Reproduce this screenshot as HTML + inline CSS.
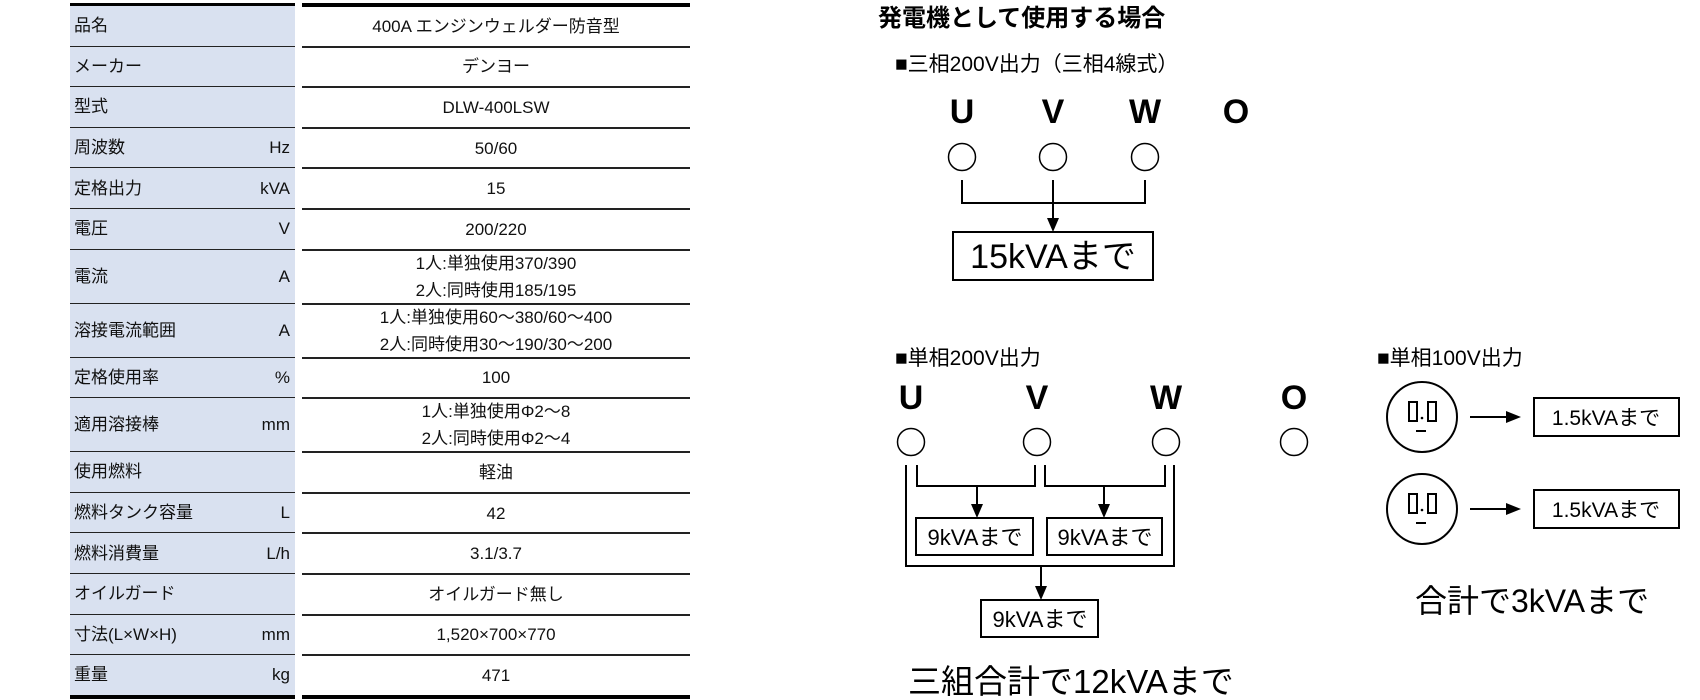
<!DOCTYPE html>
<html><head><meta charset="utf-8"><style>
body{margin:0;width:1700px;height:700px;background:#fff;position:relative;overflow:hidden;font-family:"Liberation Sans","Noto Sans CJK JP",sans-serif;}
.r{position:absolute;left:0;width:700px;}
.lab{position:absolute;left:70px;width:225px;top:0;bottom:0;background:#d9e1f0;display:flex;align-items:center;justify-content:space-between;padding:0 5px 0 4px;box-sizing:border-box;font-size:17px;line-height:20px;color:#111;white-space:nowrap;}
.val{position:absolute;left:302px;width:388px;top:0;bottom:0;display:flex;align-items:center;justify-content:center;}
.vt{text-align:center;font-size:17px;line-height:27px;color:#111;}
.ln{position:absolute;height:2px;background:#222;}
</style></head><body>
<div id="t"></div>
<script>
var rows=[["品名","","400A エンジンウェルダー防音型"],["メーカー","","デンヨー"],["型式","","DLW-400LSW"],["周波数","Hz","50/60"],["定格出力","kVA","15"],["電圧","V","200/220"],["電流","A","1人:単独使用370/390<br>2人:同時使用185/195",1],["溶接電流範囲","A","1人:単独使用60～380/60～400<br>2人:同時使用30～190/30～200",1],["定格使用率","%","100"],["適用溶接棒","mm","1人:単独使用Φ2～8<br>2人:同時使用Φ2～4",1],["使用燃料","","軽油"],["燃料タンク容量","L","42"],["燃料消費量","L/h","3.1/3.7"],["オイルガード","","オイルガード無し"],["寸法(L×W×H)","mm","1,520×700×770"],["重量","kg","471"]];
var y=6,h="";
h+='<div class="ln" style="left:70px;width:225px;top:3px;height:4px;background:#000"></div><div class="ln" style="left:302px;width:388px;top:3px;height:4px;background:#000"></div>';
rows.forEach(function(r,i){var hh=r[3]?54:40.6;
h+='<div class="r" style="top:'+y+'px;height:'+hh+'px"><div class="lab"><span>'+r[0]+'</span><span>'+r[1]+'</span></div><div class="val"><div class="vt">'+r[2]+'</div></div></div>';
y+=hh;
var last=i==rows.length-1;
h+='<div class="ln" style="left:70px;width:225px;top:'+(y-1)+'px;'+(last?'height:4px;background:#000':'')+'"></div><div class="ln" style="left:302px;width:388px;top:'+(y-1)+'px;'+(last?'height:4px;background:#000':'')+'"></div>';
});
document.getElementById('t').innerHTML=h;
</script>
<svg width="1700" height="700" style="position:absolute;left:0;top:0" font-family="Liberation Sans, Noto Sans CJK JP, sans-serif">
<text x="878" y="26" font-size="24" font-weight="bold">発電機として使用する場合</text>
<text x="895" y="71" font-size="21">■三相200V出力（三相4線式）</text>
<g font-size="34" font-weight="bold" text-anchor="middle"><text x="962" y="123">U</text><text x="1053" y="123">V</text><text x="1145" y="123">W</text><text x="1236" y="123">O</text></g>
<g fill="none" stroke="#000" stroke-width="1.5"><circle cx="962" cy="157" r="13.5"/><circle cx="1053" cy="157" r="13.5"/><circle cx="1145" cy="157" r="13.5"/></g>
<g fill="none" stroke="#000" stroke-width="2">
<path d="M962,180V203H1145V180"/><path d="M1053,180V220"/>
<rect x="953" y="232" width="200" height="48"/></g>
<path d="M1047,218H1059L1053,232Z"/>
<text x="1053" y="268" font-size="34" text-anchor="middle">15kVAまで</text>

<text x="895" y="365" font-size="21">■単相200V出力</text>
<g font-size="34" font-weight="bold" text-anchor="middle"><text x="911" y="409">U</text><text x="1037" y="409">V</text><text x="1166" y="409">W</text><text x="1294" y="409">O</text></g>
<g fill="none" stroke="#000" stroke-width="1.5"><circle cx="911" cy="442" r="13.5"/><circle cx="1037" cy="442" r="13.5"/><circle cx="1166" cy="442" r="13.5"/><circle cx="1294" cy="442" r="13.5"/></g>
<g fill="none" stroke="#000" stroke-width="2">
<path d="M906,465V566H1174V465"/>
<path d="M917,465V486H1035V465"/><path d="M1045,465V486H1165V465"/>
<path d="M977,486V506"/><path d="M1104,486V506"/>
<rect x="916" y="518" width="117" height="37"/><rect x="1047" y="518" width="115" height="37"/>
<path d="M1041,566V588"/>
<rect x="981" y="600" width="117" height="37"/></g>
<path d="M971,504H983L977,518Z"/><path d="M1098,504H1110L1104,518Z"/><path d="M1035,586H1047L1041,600Z"/>
<g font-size="22" text-anchor="middle"><text x="975" y="545">9kVAまで</text><text x="1105" y="545">9kVAまで</text><text x="1040" y="627">9kVAまで</text></g>
<text x="908" y="693" font-size="33">三組合計で12kVAまで</text>

<text x="1377" y="365" font-size="21">■単相100V出力</text>
<g fill="none" stroke="#000" stroke-width="2">
<ellipse cx="1422" cy="417" rx="35" ry="35"/><ellipse cx="1422" cy="509" rx="35" ry="35"/>
<rect x="1409" y="402" width="8" height="19"/><rect x="1428" y="402" width="8" height="19"/>
<rect x="1409" y="494" width="8" height="19"/><rect x="1428" y="494" width="8" height="19"/>
<path d="M1416,431H1426M1416,523H1426"/>
<path d="M1470,417H1508"/><path d="M1470,509H1508"/>
<rect x="1534" y="398" width="145" height="38"/><rect x="1534" y="490" width="145" height="38"/></g>
<path d="M1506,411V423L1521,417Z"/><path d="M1506,503V515L1521,509Z"/>
<circle cx="1422" cy="418" r="1.3"/><circle cx="1422" cy="510" r="1.3"/>
<g font-size="21" text-anchor="middle"><text x="1606" y="425">1.5kVAまで</text><text x="1606" y="517">1.5kVAまで</text></g>
<text x="1415" y="612" font-size="32">合計で3kVAまで</text>
</svg>
</body></html>
